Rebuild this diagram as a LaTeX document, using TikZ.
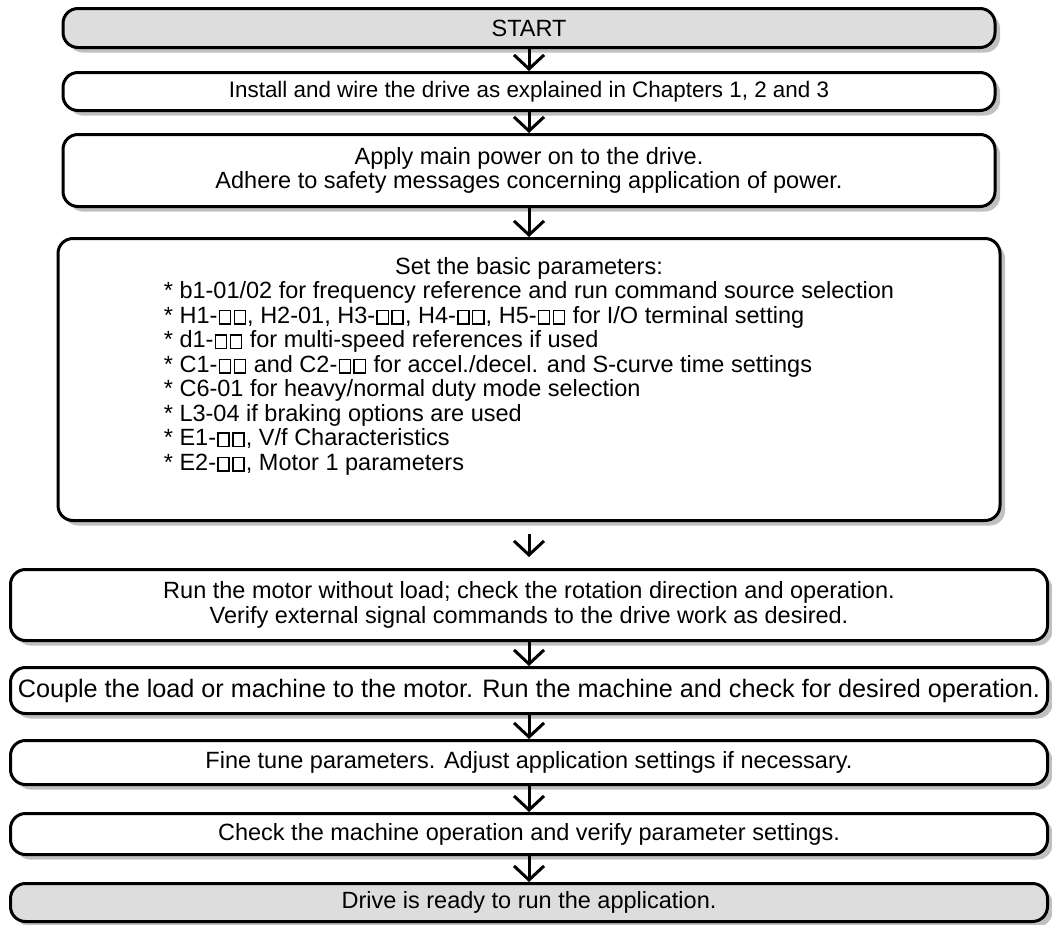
\documentclass[tikz,border=0pt]{standalone}
\usepackage{fontspec}
\setmainfont{Liberation Sans}
\usetikzlibrary{arrows.meta,shadows,positioning}
\definecolor{termgray}{RGB}{221,221,221}
\definecolor{shadowgray}{RGB}{192,192,192}
% empty parameter digit, drawn as a small square
\newcommand{\pdigit}{\kern1.2pt{\setlength{\fboxsep}{0pt}\setlength{\fboxrule}{1.4pt}%
    \framebox[12.5pt]{\rule{0pt}{12.3pt}}}\kern1.2pt}

\begin{document}
\begin{tikzpicture}[x=1pt, y=-1pt,
    font=\fontsize{23.5}{24.5}\selectfont,
    stepbox/.style={draw=black, line width=3pt, rounded corners=15pt, fill=white,
        drop shadow={shadow xshift=5pt, shadow yshift=-5pt, fill=shadowgray, opacity=1},
        minimum width=932pt, inner sep=0pt, align=center},
    widebox/.style={stepbox, minimum width=1037pt},
    endbox/.style={fill=termgray},
    flow/.style={line width=3pt, -{Straight Barb[length=14pt, width=30pt]}}]
        \useasboundingbox (0,0) rectangle (1052,924);
        % Steps, top to bottom
        \node[stepbox, endbox, minimum height=39pt] (start) at (529,28) {START};
        \node[stepbox, minimum height=38pt, font=\fontsize{22.4}{24.5}\selectfont] (install) at (529,91.5)
            {Install and wire the drive as explained in Chapters 1, 2 and 3};
        \node[stepbox, minimum height=72pt] (power) at (529,170.5)
            {Apply main power on to the drive.\\Adhere to safety messages concerning application of power.};
        \node[stepbox, minimum width=942pt, minimum height=282pt] (setup) at (529,379.5) {};
        \node[below=20pt of setup.north, inner sep=0pt] (params) {%
            \begin{tabular}{@{}l@{}}
                \multicolumn{1}{@{}c@{}}{Set the basic parameters:}\\
                {*} b1-01/02 for frequency reference and run command source selection\\
                {*} H1-\pdigit\pdigit, H2-01, H3-\pdigit\pdigit, H4-\pdigit\pdigit, H5-\pdigit\pdigit{} for I/O terminal setting\\
                {*} d1-\pdigit\pdigit{} for multi-speed references if used\\
                {*} C1-\pdigit\pdigit{} and C2-\pdigit\pdigit{} for accel./decel. and S-curve time settings\\
                {*} C6-01 for heavy/normal duty mode selection\\
                {*} L3-04 if braking options are used\\
                {*} E1-\pdigit\pdigit, V/f Characteristics\\
                {*} E2-\pdigit\pdigit, Motor 1 parameters
            \end{tabular}};
        \node[widebox, minimum height=71pt] (motor) at (529,605)
            {Run the motor without load; check the rotation direction and operation.\\Verify external signal commands to the drive work as desired.};
        \node[widebox, minimum height=46pt, font=\fontsize{25.2}{26}\selectfont] (couple) at (529,690.5)
            {Couple the load or machine to the motor. Run the machine and check for desired operation.};
        \node[widebox, minimum height=44pt] (tune) at (529,762.5)
            {Fine tune parameters. Adjust application settings if necessary.};
        \node[widebox, minimum height=41pt] (check) at (529,834)
            {Check the machine operation and verify parameter settings.};
        \node[widebox, endbox, minimum height=38pt] (ready) at (529,902.5)
            {Drive is ready to run the application.};
        % Arrows
        \draw[flow] (start) -- (install);
        \draw[flow] (install) -- (power);
        \draw[flow] (power) -- (setup);
        \draw[flow, shorten <=12pt, shorten >=11pt] (setup) -- (motor);
        \draw[flow] (motor) -- (couple);
        \draw[flow] (couple) -- (tune);
        \draw[flow] (tune) -- (check);
        \draw[flow] (check) -- (ready);
\end{tikzpicture}
\end{document}
